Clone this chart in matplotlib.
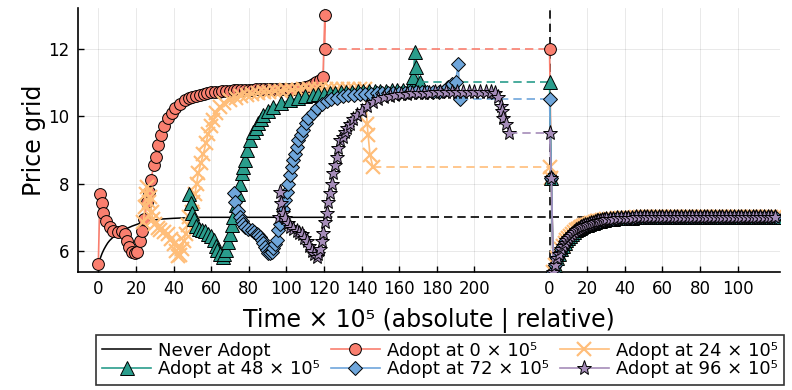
import matplotlib
matplotlib.use("Agg")
import matplotlib.pyplot as plt

plt.rcParams['font.family'] = ['DejaVu Sans']

# ---------------- data (time in units of 10^5) ----------------
never_t = [0, 1, 2, 3, 4, 5, 6, 8, 10, 12, 14, 16, 18, 20, 22, 25, 28, 31, 34, 37, 40,
           44, 48, 52, 56, 60, 66, 72, 78, 84, 90, 96, 102, 108, 114, 120]
never_v = [5.62, 5.78, 5.93, 6.05, 6.15, 6.24, 6.31, 6.42, 6.5, 6.57, 6.63, 6.69, 6.74, 6.78,
           6.82, 6.86, 6.9, 6.93, 6.95, 6.96, 6.97, 6.98, 6.99, 7.0, 7.0, 7.0, 7.0, 7.0, 7.0,
           7.0, 7.0, 7.0, 7.0, 7.0, 7.0, 7.0]

red_t = [0, 0.9, 1.8, 2.7, 4.2, 6, 8, 10.6, 12.4, 14,
         15.5, 16.5, 18, 19.5, 20.5, 22, 23, 24.5, 26, 27,
         28, 29.5, 30.5, 32, 33.5, 35, 37, 39, 41, 43.5,
         46, 48, 50, 52, 54, 56, 58, 60, 62, 64,
         66, 68, 70, 72, 74, 76, 78, 80, 82, 84,
         86, 88, 90, 92, 94, 96, 98, 100, 102, 104,
         106, 108, 110, 112, 114, 116, 118, 119.5, 120.5, 120.5]
red_v = [5.62, 7.68, 7.41, 7.14, 6.9, 6.7, 6.6, 6.57, 6.6, 6.5,
         6.3, 6.12, 5.98, 5.93, 5.98, 6.3, 6.6, 6.95, 7.45, 7.75,
         8.1, 8.55, 8.8, 9.15, 9.45, 9.7, 9.93, 10.1, 10.25, 10.37,
         10.47, 10.52, 10.56, 10.6, 10.63, 10.65, 10.68, 10.7, 10.71, 10.72,
         10.73, 10.74, 10.75, 10.76, 10.77, 10.77, 10.78, 10.78, 10.78, 10.79,
         10.79, 10.8, 10.8, 10.8, 10.8, 10.8, 10.8, 10.81, 10.81, 10.81,
         10.82, 10.83, 10.85, 10.9, 10.96, 11.02, 11.08, 11.16, 13.0, 12.0]

orange_t = [24, 24.7, 25.3, 26, 26.8, 27.5, 28.3, 29, 30, 31.5,
            33, 35, 37, 38.5, 40, 41.5, 42.5, 43.5, 44.5, 45.5,
            46.5, 47.5, 48.5, 49.7, 50.5, 51.4, 52.3, 53.2, 54.5, 55.9,
            57.2, 58.5, 59.8, 61, 62.8, 64.7, 67, 70, 73, 76,
            79, 82, 85, 88, 91, 94, 97, 100, 103, 106,
            109, 112, 115, 118, 121, 124, 127, 130, 133, 136,
            139, 142, 143, 143.5, 144.5, 146]
orange_v = [6.85, 7.3, 7.7, 7.9, 7.45, 7.6, 7.15, 6.95, 6.8, 6.68,
            6.62, 6.56, 6.5, 6.35, 6.2, 6.0, 5.85, 5.88, 6.05, 6.3,
            6.52, 6.78, 7.0, 7.15, 7.45, 7.7, 8.0, 8.3, 8.6, 8.89,
            9.2, 9.48, 9.7, 9.88, 10.08, 10.27, 10.38, 10.47, 10.53, 10.58,
            10.62, 10.65, 10.68, 10.7, 10.72, 10.74, 10.75, 10.76, 10.77, 10.78,
            10.79, 10.8, 10.8, 10.81, 10.81, 10.81, 10.81, 10.81, 10.81, 10.81,
            10.81, 10.81, 9.75, 9.45, 8.85, 8.5]

green_t = [48.3, 49.2, 50.1, 50.8, 51.9, 53.5, 55, 56.5, 58.1, 59.7,
           61.3, 62.4, 63.4, 64.8, 66.1, 67, 67.8, 69, 70.1, 71,
           71.8, 73.2, 74.5, 75.4, 76.3, 77.2, 78, 78.9, 80.7, 82.5,
           83.8, 85.2, 86.5, 87.8, 90, 93.1, 97, 101.9, 106, 110,
           114.3, 117, 120, 123, 126, 129, 132, 135, 138, 141,
           144, 147, 150, 153, 156, 159, 162, 165,
           166.5, 167.5, 168.4, 169, 171]
green_v = [7.7, 7.41, 7.12, 6.95, 6.75, 6.65, 6.62, 6.6, 6.52, 6.45,
           6.33, 6.15, 6.03, 5.9, 5.83, 5.9, 6.03, 6.28, 6.52, 6.78,
           7.01, 7.35, 7.7, 8.0, 8.3, 8.5, 8.69, 8.99, 9.28, 9.53,
           9.66, 9.78, 9.9, 10.02, 10.15, 10.27, 10.38, 10.47, 10.53, 10.58,
           10.62, 10.64, 10.65, 10.67, 10.68, 10.7, 10.71, 10.72, 10.73, 10.73,
           10.74, 10.74, 10.75, 10.75, 10.76, 10.76, 10.77, 10.8,
           10.95, 11.16, 11.9, 11.45, 11.0]

blue_t = [72.4, 72.9, 74.5, 75.5, 76.3, 77.2, 78, 79.8, 81.6, 83,
          84.3, 85.2, 86, 87, 87.8, 88.7, 89.6, 90.5, 91.3, 92.2,
          93.1, 94, 95, 95.7, 96.6, 97.5, 98.4, 99.3, 100.2, 101.1,
          102, 102.8, 103.7, 104.6, 105.5, 106.4, 107.7, 109.1, 110.4, 111.7,
          114, 116.2, 118.8, 121.5, 124, 127, 130, 133, 136, 139,
          142, 145, 148, 151, 154, 157, 160, 163, 166, 169,
          172, 175, 178, 181, 184, 186, 188, 190, 191.5, 192.2]
blue_v = [7.72, 7.45, 7.2, 7.0, 6.9, 6.8, 6.72, 6.66, 6.62, 6.57,
          6.52, 6.47, 6.42, 6.33, 6.23, 6.12, 6.03, 5.95, 5.93, 5.98,
          6.08, 6.2, 6.33, 6.62, 6.8, 7.01, 7.25, 7.51, 7.75, 8.0,
          8.25, 8.49, 8.7, 8.89, 9.08, 9.28, 9.45, 9.6, 9.8, 9.95,
          10.1, 10.25, 10.36, 10.44, 10.5, 10.54, 10.58, 10.61, 10.63, 10.64,
          10.65, 10.66, 10.67, 10.67, 10.68, 10.68, 10.69, 10.69, 10.7, 10.7,
          10.7, 10.71, 10.71, 10.72, 10.75, 10.85, 10.95, 11.0, 11.55, 10.5]

purple_t = [96, 96.5, 97.4, 98.4, 99.5, 100.8, 101.9, 103.5, 105.5, 107,
            108.2, 109.5, 110.8, 112.2, 113.5, 114.8, 116.2, 117, 117.9, 118.8,
            119.7, 120.6, 121.5, 122.3, 123.2, 124.1, 125, 125.9, 126.8, 127.7,
            128.6, 129.9, 131.2, 132.5, 133.9, 135.6, 137.4, 140, 143, 146,
            149, 152, 155, 158, 161, 164, 167, 170, 173, 176,
            179, 182, 185, 188, 191, 194, 197, 200, 203, 206,
            209, 211, 212.5, 214, 214.6, 215.5, 217, 218.5]
purple_v = [7.0, 7.75, 7.41, 7.12, 6.97, 6.82, 6.72, 6.65, 6.6, 6.55,
            6.5, 6.4, 6.3, 6.15, 6.0, 5.9, 5.83, 5.92, 6.05, 6.3,
            6.55, 6.85, 7.12, 7.45, 7.72, 8.0, 8.3, 8.55, 8.79, 9.05,
            9.28, 9.38, 9.52, 9.64, 9.75, 9.9, 10.02, 10.15, 10.3, 10.42,
            10.5, 10.55, 10.59, 10.62, 10.64, 10.66, 10.67, 10.68, 10.69, 10.69,
            10.7, 10.7, 10.7, 10.71, 10.71, 10.71, 10.71, 10.71, 10.71, 10.71,
            10.7, 10.68, 10.55, 10.3, 10.15, 9.95, 9.75, 9.5]

# relative-time recovery after adoption (shared by all adopters)
rel_t = [1, 2, 3, 4, 5, 6, 7, 8, 9, 10,
         11, 12, 13, 14, 15, 16, 17, 18, 19, 20,
         21, 22, 23, 24, 25, 26, 27, 28, 29, 30,
         32, 34, 36, 38, 40, 42, 44, 46, 48, 50,
         52, 54, 56, 58, 60, 62, 64, 66, 68, 70,
         72, 74, 76, 78, 80, 82, 84, 86, 88, 90,
         92, 94, 96, 98, 100, 102, 104, 106, 108, 110,
         112, 114, 116, 118, 120]
rel_v = [8.15, 5.38, 5.6, 5.78, 5.92, 6.05, 6.15, 6.25, 6.33, 6.4,
         6.46, 6.52, 6.57, 6.62, 6.66, 6.69, 6.72, 6.74, 6.76, 6.78,
         6.8, 6.82, 6.84, 6.86, 6.88, 6.89, 6.9, 6.92, 6.93, 6.94,
         6.95, 6.96, 6.97, 6.97, 6.98, 6.99, 6.99, 7.0, 7.0, 7.0,
         7.0, 7.0, 7.0, 7.0, 7.0, 7.0, 7.0, 7.0, 7.0, 7.0,
         7.0, 7.0, 7.0, 7.0, 7.0, 7.0, 7.0, 7.0, 7.0, 7.0,
         7.0, 7.0, 7.0, 7.0, 7.0, 7.0, 7.0, 7.0, 7.0, 7.0,
         7.0, 7.0, 7.0, 7.0, 7.0]

labels = ["Never Adopt", "Adopt at 0 × 10⁵", "Adopt at 24 × 10⁵",
          "Adopt at 48 × 10⁵", "Adopt at 72 × 10⁵", "Adopt at 96 × 10⁵"]
abs_ticks = [0, 20, 40, 60, 80, 100, 120, 140, 160, 180, 200]
rel_ticks = [0, 20, 40, 60, 80, 100]
yticks = [6, 8, 10, 12]

# ---------------- layout / style ----------------
REL0 = 240          # x position where relative time 0 is drawn
colors = ["#FA7F6F", "#FFBE7A", "#2A9D8C", "#6FA6DB", "#A58CB9"]
markers = ["o", "x", "^", "D", "*"]
msizes = [8.5, 9.5, 10, 7, 11]
series = [(red_t, red_v), (orange_t, orange_v), (green_t, green_v),
          (blue_t, blue_v), (purple_t, purple_v)]
for tt, vv in series:
    assert len(tt) == len(vv)
assert len(rel_t) == len(rel_v)

fig = plt.figure(figsize=(7.92, 3.9), dpi=100)
ax = fig.add_axes([78 / 792, 1 - 272 / 390, (780 - 78) / 792, (272 - 8) / 390])

ax.axvline(REL0, color="black", ls=(0, (5, 3)), lw=1.2, zorder=1)

handles = []
h, = ax.plot(never_t, never_v, color="black", lw=1.1, label=labels[0], zorder=2)
handles.append(h)
ax.plot([never_t[-1], REL0 + rel_t[-1]], [never_v[-1], never_v[-1]],
        color="black", ls=(0, (5, 3)), lw=1.2, zorder=2)

for i, (tt, vv) in enumerate(series):
    c = colors[i]
    m = markers[i]
    kw = dict(color=c, lw=1.2, marker=m, ms=msizes[i], zorder=3 + i)
    if m == "x":
        kw.update(mec=c, mew=1.6)
    else:
        kw.update(mfc=c, mec="black", mew=0.7)
    h, = ax.plot(tt, vv, label=labels[i + 1], **kw)
    handles.append(h)
    last = vv[-1]
    ax.plot([tt[-1], REL0], [last, last], color=c, ls=(0, (5, 3)), lw=1.2, zorder=3 + i)
    ax.plot([REL0] + [REL0 + r for r in rel_t], [last] + rel_v, **kw)

ax.set_xlim(-10.8, 362.6)
ax.set_ylim(5.38, 13.2)
ax.set_xticks(abs_ticks + [REL0 + r for r in rel_ticks])
ax.set_xticklabels([str(t) for t in abs_ticks] + [str(r) for r in rel_ticks])
ax.set_yticks(yticks)
ax.tick_params(direction="in", length=4, width=1, labelsize=12, pad=6, color="black")
ax.grid(True, color="black", alpha=0.1, lw=0.6)
ax.set_axisbelow(True)
for s in ["top", "right"]:
    ax.spines[s].set_visible(False)
for s in ["left", "bottom"]:
    ax.spines[s].set_linewidth(1.2)

ax.set_xlabel("Time × 10⁵ (absolute | relative)", fontsize=17, labelpad=7)
ax.set_ylabel("Price grid", fontsize=17, labelpad=2)

order = [0, 3, 1, 4, 2, 5]
leg = fig.legend([handles[k] for k in order], [labels[k] for k in order],
                 ncol=3, loc="center", bbox_to_anchor=(96 / 792, 2 / 390, 688 / 792, 56 / 390),
                 mode="expand", frameon=True, fancybox=False, edgecolor="black",
                 fontsize=13, handlelength=2.7, handletextpad=0.4, columnspacing=0.4,
                 labelspacing=0.05, borderpad=0.35, borderaxespad=0)
leg.get_frame().set_linewidth(1.2)

fig.savefig("out.png", dpi=100)
